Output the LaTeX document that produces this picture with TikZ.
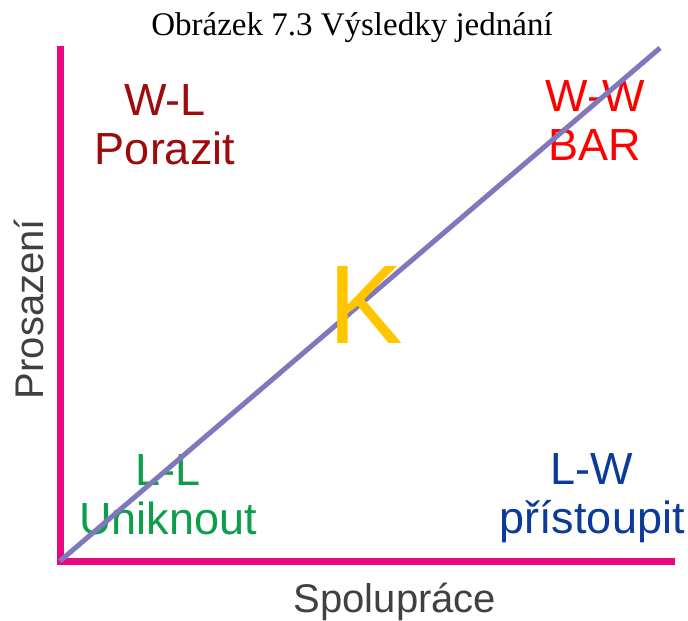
\documentclass[tikz,border=0pt]{standalone}
\usepackage{fontspec}
\setmainfont{Liberation Serif}
\newfontfamily\arial{Liberation Sans}
\definecolor{axispink}{HTML}{E6097F}
\definecolor{diaglilac}{HTML}{7F78BC}
\definecolor{wldark}{HTML}{9E0B0D}
\definecolor{kgold}{HTML}{FFC600}
\definecolor{llgreen}{HTML}{0C9E4A}
\definecolor{lwblue}{HTML}{0B3A9C}
\definecolor{axisgray}{HTML}{404040}
\begin{document}
\begin{tikzpicture}[x=1pt, y=-1pt,
  every node/.style={inner sep=0pt},
  quad/.style={font=\arial\fontsize{45}{49}\selectfont, align=center, anchor=base},
  axislabel/.style={font=\arial\fontsize{40}{44}\selectfont, text=axisgray, anchor=base}]
  \useasboundingbox (0,0) rectangle (688,621);
  % Title
  \node[font=\fontsize{33}{38}\selectfont, anchor=base] (title) at (352,35) {Obrázek 7.3 Výsledky jednání};
  % Axes
  \coordinate (top) at (60,46);
  \coordinate (origin) at (60,561);
  \coordinate (right) at (675,561);
  \coordinate (far) at (660,48);
  \draw[axispink, line width=7pt, miter limit=4] (top) -- (origin) -- (right);
  \node[axislabel, rotate=90] (ylab) at (43,309) {Prosazení};
  \node[axislabel] (xlab) at (395,612) {Spolupráce};
  % Outcome labels (base = last line)
  \node[quad, text=wldark] (wl) at (165,164) {W-L\\Porazit};
  \node[quad, text=red] (ww) at (595,160) {W-W\\BAR};
  \node[quad, text=llgreen] (ll) at (168,534) {L-L\\Uniknout};
  \node[quad, text=lwblue] (lw) at (592,533) {L-W\\přístoupit};
  % Diagonal
  \draw[diaglilac, line width=5pt] (origin) -- (far);
  \node[font=\arial\fontsize{112}{120}\selectfont, text=kgold, anchor=base] (k) at (366,343) {K};
\end{tikzpicture}
\end{document}
